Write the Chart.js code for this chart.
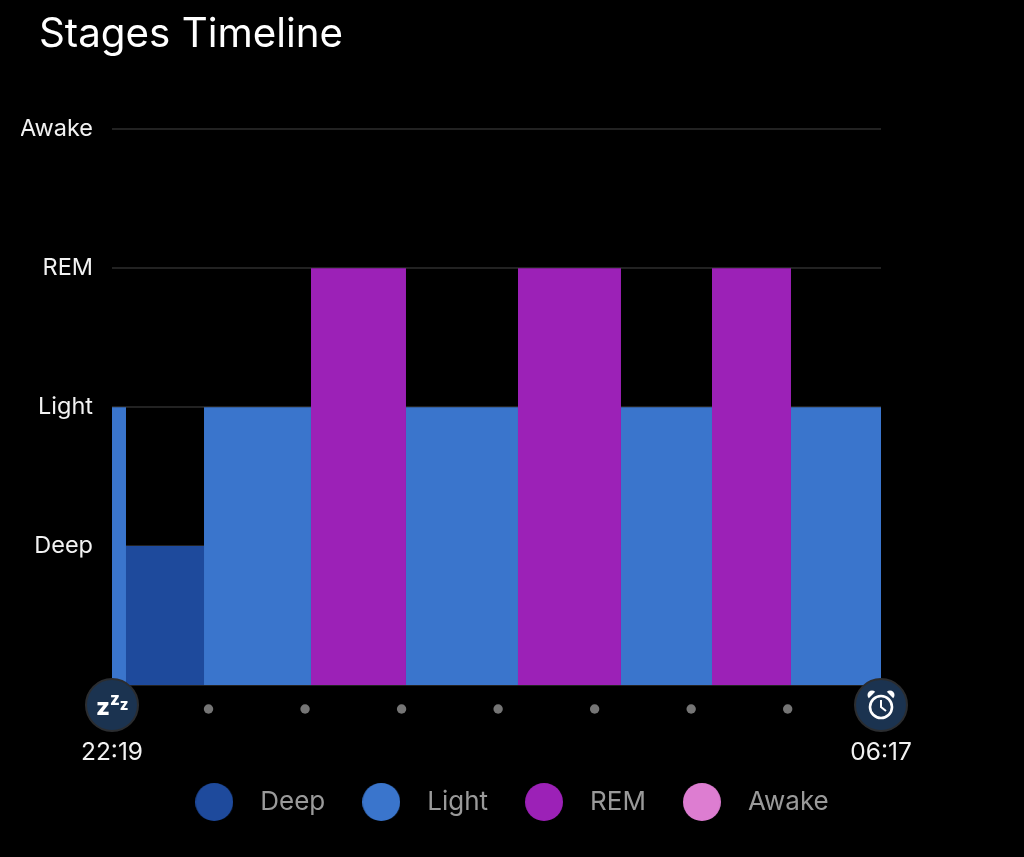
<!DOCTYPE html>
<html>
<head>
<meta charset="utf-8">
<style>html,body{margin:0;padding:0;background:#000}canvas{display:block}</style>
<script src="https://cdn.jsdelivr.net/npm/chart.js@4"></script>
</head>
<body>
<canvas id="c" width="1024" height="857"></canvas>
<script>
const stageNames = ['', 'Deep', 'Light', 'REM', 'Awake'];
const legendNames = ['Deep', 'Light', 'REM', 'Awake'];
const stageColors = ['#1e4a9c', '#3a75cc', '#9c21b7', '#dd7dd1'];
const segmentEdges = [0, 8.70, 57.19, 123.69, 182.74, 252.36, 316.38, 372.95, 422.05, 478];
const segmentStages = [2, 1, 2, 3, 2, 3, 2, 3, 2];
const hourMarks = [60, 120, 180, 240, 300, 360, 420];
const timeLabels = ['22:19', '06:17'];
const FONT = 'Inter, "Noto Sans", sans-serif';

function stagePoints(stage) {
  const pts = [];
  segmentStages.forEach((s, i) => {
    if (s === stage) {
      pts.push({x: segmentEdges[i], y: s}, {x: segmentEdges[i + 1], y: s}, {x: segmentEdges[i + 1], y: null});
    }
  });
  return pts;
}
function legendDot(color) {
  const c = document.createElement('canvas');
  c.width = 38; c.height = 38;
  const g = c.getContext('2d');
  g.fillStyle = color;
  g.beginPath(); g.arc(19, 19, 19, 0, Math.PI * 2); g.fill();
  return c;
}
const datasets = legendNames.map((name, i) => ({
  type: 'line', label: name, data: stagePoints(i + 1),
  backgroundColor: stageColors[i], borderColor: stageColors[i], borderWidth: 0,
  pointRadius: 0, fill: 'origin', tension: 0, spanGaps: false
}));

const badges = {
  id: 'badges',
  beforeDraw(chart) { chart.titleBlock.left = 39; },
  afterDraw(chart) {
    const g = chart.ctx, xs = chart.scales.x;
    const bottom = chart.chartArea.bottom;
    g.save();
    g.fillStyle = '#757575';
    hourMarks.forEach(h => {
      g.beginPath(); g.arc(xs.getPixelForValue(h), bottom + 24, 4.7, 0, Math.PI * 2); g.fill();
    });
    g.restore();
    const cy = bottom + 20;
    [xs.getPixelForValue(0), xs.getPixelForValue(478)].forEach((cx, k) => {
      g.save();
      g.fillStyle = '#1b3350';
      g.strokeStyle = '#2b2d30';
      g.lineWidth = 2;
      g.beginPath(); g.arc(cx, cy, 26, 0, Math.PI * 2); g.fill(); g.stroke();
      g.fillStyle = '#fff'; g.strokeStyle = '#fff';
      if (k === 0) {
        g.textAlign = 'center'; g.textBaseline = 'alphabetic';
        g.font = '800 24px ' + FONT; g.fillText('z', cx - 9, cy + 10);
        g.font = '800 17px ' + FONT; g.fillText('z', cx + 3, cy + 0);
        g.font = '800 15px ' + FONT; g.fillText('z', cx + 12, cy + 5);
      } else {
        const ccy = cy + 2;
        g.lineWidth = 2.6;
        g.beginPath(); g.arc(cx, ccy, 11, 0, Math.PI * 2); g.stroke();
        g.lineWidth = 2;
        g.beginPath(); g.moveTo(cx, ccy - 7); g.lineTo(cx, ccy); g.lineTo(cx + 5, ccy + 4); g.stroke();
        g.beginPath(); g.arc(cx - 9, ccy - 12, 4.5, Math.PI * 0.75, Math.PI * 1.75); g.closePath(); g.fill();
        g.beginPath(); g.arc(cx + 9, ccy - 12, 4.5, -Math.PI * 0.75, Math.PI * 0.25); g.closePath(); g.fill();
      }
      g.restore();
    });
  }
};

new Chart(document.getElementById('c'), {
  data: {datasets},
  plugins: [badges],
  options: {
    responsive: false, animation: false,
    layout: {padding: {left: 21, right: 35, top: 0, bottom: 32}},
    scales: {
      x: {
        type: 'linear', min: 0, max: 478,
        grid: {display: false}, border: {display: false},
        afterBuildTicks(s) { s.ticks = [{value: 0}, {value: 478}]; },
        afterFit(s) { s.height = 81; },
        ticks: {
          autoSkip: false, maxRotation: 0, padding: 45, color: '#f2f2f2',
          font: {family: FONT, size: 24.5},
          callback: (v) => v === 0 ? timeLabels[0] : timeLabels[1]
        }
      },
      y: {
        type: 'linear', min: 0, max: 4,
        afterFit(s) { s.width = 91; },
        border: {display: false},
        grid: {color: '#222222', lineWidth: 2, drawTicks: false},
        ticks: {
          stepSize: 1, padding: 19, color: '#f2f2f2',
          font: {family: FONT, size: 23.5},
          callback: (v) => stageNames[v]
        }
      },
      y2: {
        type: 'linear', position: 'right', min: 0, max: 4,
        afterFit(s) { s.width = 108; },
        border: {display: false}, grid: {display: false},
        ticks: {display: false}
      }
    },
    plugins: {
      tooltip: {enabled: false},
      title: {
        display: true, text: 'Stages Timeline', align: 'start', color: '#ffffff',
        font: {family: FONT, size: 40.3, weight: '400'}, padding: {top: 11, bottom: 70}
      },
      legend: {
        display: true, position: 'bottom',
        labels: {
          usePointStyle: true, pointStyleWidth: 66, padding: 23, color: '#9a9a9a',
          font: {family: FONT, size: 26},
          generateLabels: () => legendNames.map((n, i) => ({
            text: n, pointStyle: legendDot(stageColors[i]), fillStyle: stageColors[i],
            strokeStyle: 'transparent', lineWidth: 0, hidden: false, datasetIndex: i, fontColor: '#9a9a9a'
          }))
        }
      }
    }
  }
});
</script>
</body>
</html>
